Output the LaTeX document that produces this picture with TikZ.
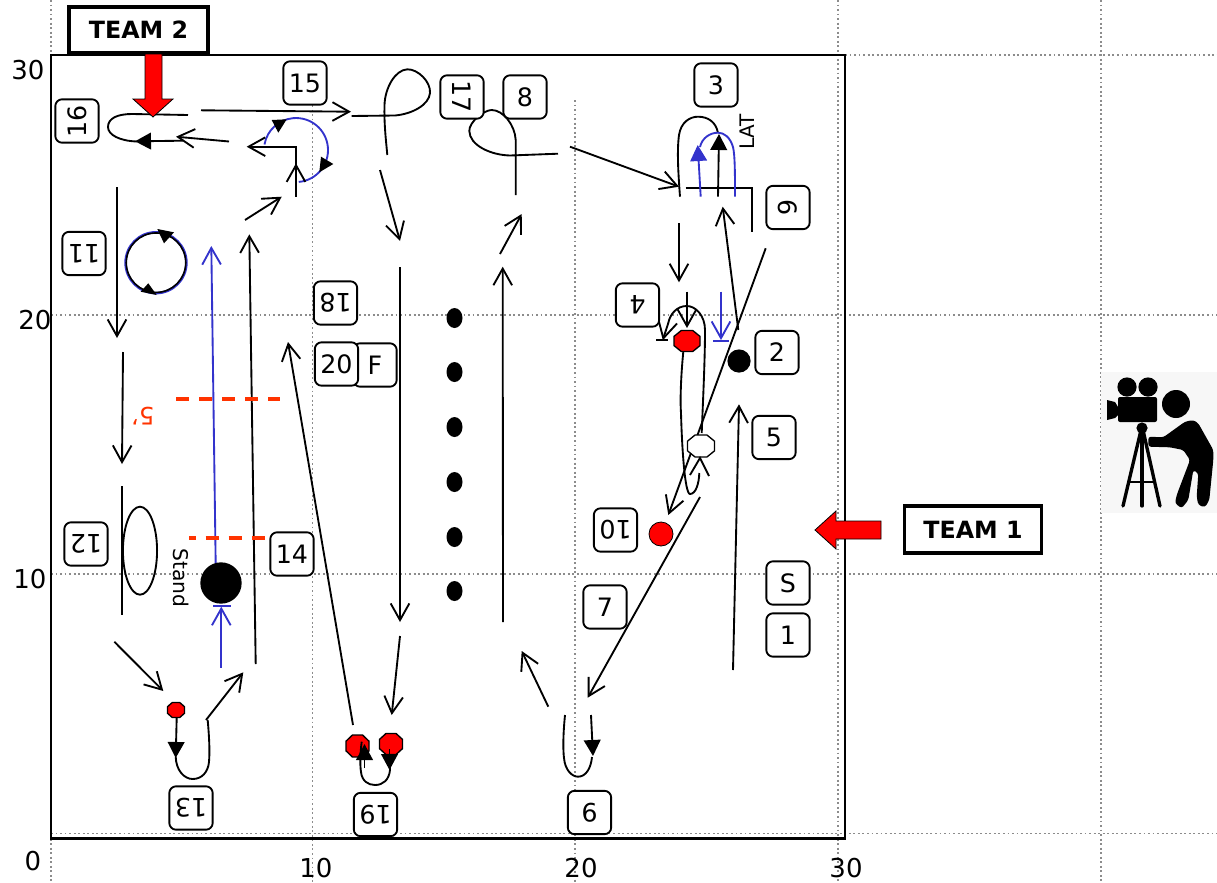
\documentclass[tikz,border=0pt]{standalone}
\usepackage{fontspec}
\setmainfont{DejaVu Sans}
\usetikzlibrary{arrows.meta}
\definecolor{pblue}{HTML}{3333CC}
\definecolor{pdash}{HTML}{FF3300}
\definecolor{pgrid}{HTML}{8C8C8C}
\tikzset{
  numbox/.style={draw=black,line width=1.4pt,rounded corners=5pt,fill=white,minimum width=32.5pt,minimum height=32.5pt,inner sep=0pt,font=\fontsize{19}{19}\selectfont},
  teambox/.style={draw=black,line width=2.7pt,fill=white,inner sep=0pt,font=\fontsize{17.8}{18}\bfseries\selectfont},
  axislab/.style={inner sep=0pt,font=\fontsize{19.5}{20}\selectfont},
  gridline/.style={pgrid,line width=1.3pt,dash pattern=on 1.4pt off 2pt},
  ln/.style={black,line width=1.4pt},
  bl/.style={pblue,line width=1.4pt},
  oa/.style={-{Straight Barb[length=12.5pt,width=14pt]}},
  fa/.style={-{Triangle[length=12pt,width=12.5pt]}},
  reddash/.style={pdash,line width=2.3pt,dash pattern=on 9.8pt off 7.5pt},
  redarrow/.style={draw=black,line width=0.6pt,fill=red},
  octo/.style={draw=black,line width=1pt},
  iconline/.style={black,line cap=round,line join=round}
}
\newcommand\octa[5]{\draw[octo,fill=#1,shift={(#2,#3)},xscale=#4,yscale=#5] (-.5,-.22)--(-.22,-.5)--(.22,-.5)--(.5,-.22)--(.5,.22)--(.22,.5)--(-.22,.5)--(-.5,.22)--cycle;}
\begin{document}
\begin{tikzpicture}[x=0.75pt,y=-0.75pt]
\useasboundingbox (0,0) rectangle (1217,882);
\clip (0,0) rectangle (1217,882);
% grid
\draw[gridline] (51,0)--(51,882);
\draw[gridline] (312.5,105)--(312.5,882);
\draw[gridline] (575,100)--(575,882);
\draw[gridline] (838,0)--(838,882);
\draw[gridline] (1101,0)--(1101,882);
\draw[gridline] (845,55)--(1217,55);
\draw[gridline] (51,315)--(1217,315);
\draw[gridline] (51,574)--(1217,574);
\draw[gridline] (51,833.5)--(1217,833.5);
% frame
\draw[black,line width=2.1pt] (51,55) rectangle (845,838.5);
% axis labels
\node[axislab] (ax30l) at (28,70) {30};
\node[axislab] (ax20l) at (35,320) {20};
\node[axislab] (ax10l) at (30,579) {10};
\node[axislab] (ax0) at (33,861) {0};
\node[axislab] (ax10b) at (316,868) {10};
\node[axislab] (ax20b) at (581,868) {20};
\node[axislab] (ax30b) at (846,868) {30};
% top-left loop and arrows
\draw[ln] (188,115) -- (132,114) .. controls (118,114) and (108,118) .. (108,127) .. controls (108,135) and (120,141) .. (137,141.5);
\draw[ln,fa] (183,140.7) -- (135,141.3);
\draw[ln,oa] (229,141.5) -- (176,136.7);
\draw[ln,oa] (201,110.3) -- (351,111.7);
% loop 15
\draw[ln] (387.3,155) .. controls (386,140) and (384,125) .. (384.5,105) .. controls (385,88) and (395,70) .. (407.3,69.3) .. controls (418,69) and (431,82) .. (430,93) .. controls (429,105) and (412,114) .. (395,115.5) -- (351.7,116);
\draw[ln,oa] (380,170) -- (400,241);
\draw[ln,oa] (400,267) -- (400,622);
\draw[ln,oa] (400,636) -- (391.7,715);
\draw[ln,oa] (353,725) -- (288,342);
% bottom reds
\octa{red}{357.5}{746}{23}{22}
\octa{red}{391}{744}{23}{21}
\draw[ln] (361.7,741.7) .. controls (360,755) and (360,765) .. (361,772) .. controls (362,781) and (368,785) .. (375,785) .. controls (383,785) and (389,780) .. (390,770) -- (390,755);
\draw[ln,fa] (364.5,768) -- (364.5,744);
\draw[ln,fa] (389.5,749) -- (389.5,770);
% 9 U-turn
\draw[ln] (565,715) .. controls (563,735) and (563,750) .. (564,758) .. controls (565,770) and (572,776.7) .. (578,776.7) .. controls (586,776.7) and (591,768) .. (592,757);
\draw[ln,fa] (591,715) -- (593,756);
\draw[ln,oa] (548.3,706.7) -- (521.7,651);
\draw[ln,oa] (700,497) -- (587.7,697.7);
\draw[ln,oa] (503,622) -- (502.7,266.7);
\draw[ln,oa] (500,254) -- (521.7,214);
% loop 8
\draw[ln] (515.7,195) -- (515.7,140) .. controls (515,125) and (503,110) .. (491.7,110) .. controls (484,110) and (469,122) .. (469.3,131) .. controls (469.6,145) and (490,155) .. (510,155.5) -- (558,153.7);
\draw[ln,oa] (570,146.7) -- (679,186.7);
% loop 3 and corner
\draw[ln] (680,196.7) .. controls (678,170) and (677,150) .. (679,135) .. controls (681,122) and (690,116.7) .. (698,116.7) .. controls (708,116.7) and (716,122) .. (718,133);
\draw[ln] (685.7,188.3) -- (751.7,188.3) -- (751.7,231.7);
\draw[bl] (735,196.7) .. controls (735,175) and (735,155) .. (733,147) .. controls (730,137) and (724,132.7) .. (718,132.7) .. controls (710,132.7) and (702,138) .. (700,147);
\draw[ln,fa] (718,196.7) -- (719,134);
\draw[bl,fa] (700.7,196.7) -- (697.7,145);
\node[font=\fontsize{15}{15}\selectfont,inner sep=0pt,rotate=90] (lat) at (747,132) {LAT};
\draw[ln,oa] (738.3,330) -- (722.7,206.7);
\draw[ln,oa] (765.7,248.3) -- (668.3,515);
\draw[ln,oa] (679,223.3) -- (679,282.3);
% player 4 area
\octa{white}{701}{446}{27}{22}
\draw[ln] (683.3,351.7) .. controls (681,375) and (680,400) .. (681,413) .. controls (682,450) and (685,494) .. (690,494) .. controls (696,494) and (699,483) .. (699.3,473);
\draw[ln] (690,475) -- (700,458) -- (709,476);
\draw[ln] (701.7,433) .. controls (703,400) and (705,360) .. (705,330) .. controls (705,316) and (696,306) .. (686.7,306) .. controls (677,306) and (670,314) .. (668.3,323);
\draw[ln] (668.3,323) -- (663.3,338.3);
\draw[ln] (656,339.8) -- (668.3,339.8);
\draw[ln] (658.5,320) -- (663.3,338.3) -- (677,323.5);
\octa{red}{687}{341}{26}{21}
\draw[ln,oa] (687,291.7) -- (687,328);
\draw[bl,oa] (721,291.7) -- (721,340);
\draw[bl] (713,341) -- (728.5,341);
\fill[black] (739,361) circle[radius=8.7pt];
\fill[red,draw=black,line width=0.6pt] (661,534) circle[radius=9pt];
\draw[ln,oa] (733,670) -- (739,404.3);
% left column
\draw[ln,oa] (117,187) -- (117,338);
\draw[ln,oa] (123,352) -- (122,464);
\draw[ln] (121.7,486) -- (121.7,615);
\draw[ln] (140,550.7) ellipse[x radius=12.8pt,y radius=33pt];
\draw[ln,oa] (114.3,641.7) -- (163.3,691);
\octa{red}{176}{710}{17}{15}
\draw[ln,fa] (176.7,717.3) -- (175.7,758);
\draw[ln] (175.7,756.7) .. controls (176,770) and (184,779) .. (192.7,779) .. controls (202,779) and (208,772) .. (209,762) .. controls (210,750) and (209,735) .. (207.7,720);
\draw[ln,oa] (206,720) -- (243.3,672.3);
\draw[ln,oa] (255.7,664) -- (249.3,234.3);
\draw[bl,oa] (221.3,667.7) -- (221.3,606.7);
\draw[bl] (213,606) -- (231,606);
\draw[bl,oa] (215.7,565) -- (211.3,246);
\fill[black] (221,583) circle[radius=15.5pt];
\draw[ln,oa] (245,220) -- (281.7,196.7);
\draw[bl] (298.8,181.9) arc[start angle=-85,end angle=170,radius=24pt];
\draw[ln,oa] (296,196.7) -- (296,163.3);
\draw[ln,oa] (296,165) -- (296,146.7) -- (246.7,146.7);
\fill[black] (271.7,120) -- (286.7,119.3) -- (278.3,132.7) -- cycle;
\fill[black] (321,156.7) -- (333.3,164) -- (319.3,172.3) -- cycle;
% circle 11
\draw[pblue,line width=1.9pt] (156,262.7) circle[radius=22.8pt];
\draw[black,line width=1.2pt] (156,262.7) circle[radius=22.3pt];
\fill[black] (157.3,229) -- (174,232.3) -- (164,243.3) -- cycle;
\fill[black] (140.7,291.7) -- (148.3,283.3) -- (156.7,295) -- cycle;
% cones
\foreach \yy in {318,372,427,482,537,591}{\fill[black] (454.5,\yy) ellipse[x radius=6pt,y radius=7.5pt];}
% dashes
\draw[reddash] (176,399) -- (280,399);
\draw[reddash,dash pattern=on 5pt off 7.5pt on 9.8pt off 7.5pt on 9.8pt off 7.5pt on 9.8pt off 7.5pt on 9.8pt off 7.5pt] (189,538) -- (289,538);
\node[pdash,inner sep=0pt,rotate=180,font=\fontsize{18}{18}\selectfont] (five) at (143,416) {5'};
\node[inner sep=0pt,rotate=-90,font=\fontsize{15.2}{15}\selectfont] (stand) at (181.5,578) {Stand};
% numbered boxes
\node[numbox,rotate=90] (n16) at (77,121) {16};
\node[numbox] (n15) at (305,83) {15};
\node[numbox,rotate=-90] (n17) at (462,97) {17};
\node[numbox] (n8) at (525,97) {8};
\node[numbox] (n3) at (716,85) {3};
\node[numbox,rotate=-90] (n6) at (788,207.5) {6};
\node[numbox] (n2) at (777,352.5) {2};
\node[numbox,rotate=180] (n4) at (637.5,305) {4};
\node[numbox] (n5) at (774,437.5) {5};
\node[numbox,rotate=180] (n10) at (615.5,530) {10};
\node[numbox] (nS) at (788,583) {S};
\node[numbox] (n1) at (788,635) {1};
\node[numbox] (n7) at (605,607) {7};
\node[numbox,rotate=180] (n9) at (589.5,812.5) {9};
\node[numbox,rotate=180] (n19) at (375.5,814.5) {19};
\node[numbox,rotate=180] (n13) at (191,808) {13};
\node[numbox] (n14) at (292,554) {14};
\node[numbox,rotate=180] (n12) at (86,544) {12};
\node[numbox,rotate=180] (n11) at (84,253.5) {11};
\node[numbox,rotate=180] (n18) at (335.5,303) {18};
\node[numbox] (nF) at (375,365) {F};
\node[numbox] (n20) at (336.5,364) {20};
% team labels
\node[teambox,minimum width=104pt,minimum height=34.5pt] (team2) at (138.5,30) {TEAM 2};
\node[teambox,minimum width=103pt,minimum height=35pt] (team1) at (973,529.5) {TEAM 1};
\draw[redarrow] (145,54) -- (162,54) -- (162,99) -- (173,99) -- (153,117) -- (133,99) -- (145,99) -- cycle;
\draw[redarrow] (881,521) -- (836,521) -- (836,511) -- (815,530) -- (836,549) -- (836,539) -- (881,539) -- cycle;
% camera operator icon
\fill[black!3] (1100.5,372) rectangle (1217,513);
\fill[black] (1127,387) circle[radius=7.2pt];
\fill[black] (1148,387) circle[radius=7.2pt];
\fill[black,rounded corners=1.5pt] (1118,397) rectangle (1157,422);
\fill[black] (1107,400) -- (1115,402) -- (1118,407) -- (1118,415) -- (1115,418) -- (1107,420) -- cycle;
\fill[black] (1176,404) circle[radius=10.5pt];
\fill[black] (1142,428) circle[radius=4.2pt];
\draw[iconline,line width=2.5pt] (1141,430) -- (1123,506);
\draw[iconline,line width=2.5pt] (1142,430) -- (1142,506);
\draw[iconline,line width=2.5pt] (1143,430) -- (1160,506);
\draw[iconline,line width=2pt,line cap=butt] (1129,482) -- (1153,482);
\fill[black,rounded corners=2pt] (1148.3,436.7) -- (1163.3,437.3) -- (1185,421.7) -- (1193.3,420) -- (1198.3,423.3) -- (1213.3,450) -- (1213.3,460) -- (1209.3,500) -- (1205,507.3) -- (1198.3,505) -- (1196.7,496.7) -- (1198.3,473.3) -- (1193.3,470) -- (1188.3,500) -- (1181.7,508.3) -- (1175,503.3) -- (1176.7,495) -- (1190,460) -- (1183.3,450) -- (1170,447.3) -- (1148.3,446.7) -- cycle;
\end{tikzpicture}
\end{document}
